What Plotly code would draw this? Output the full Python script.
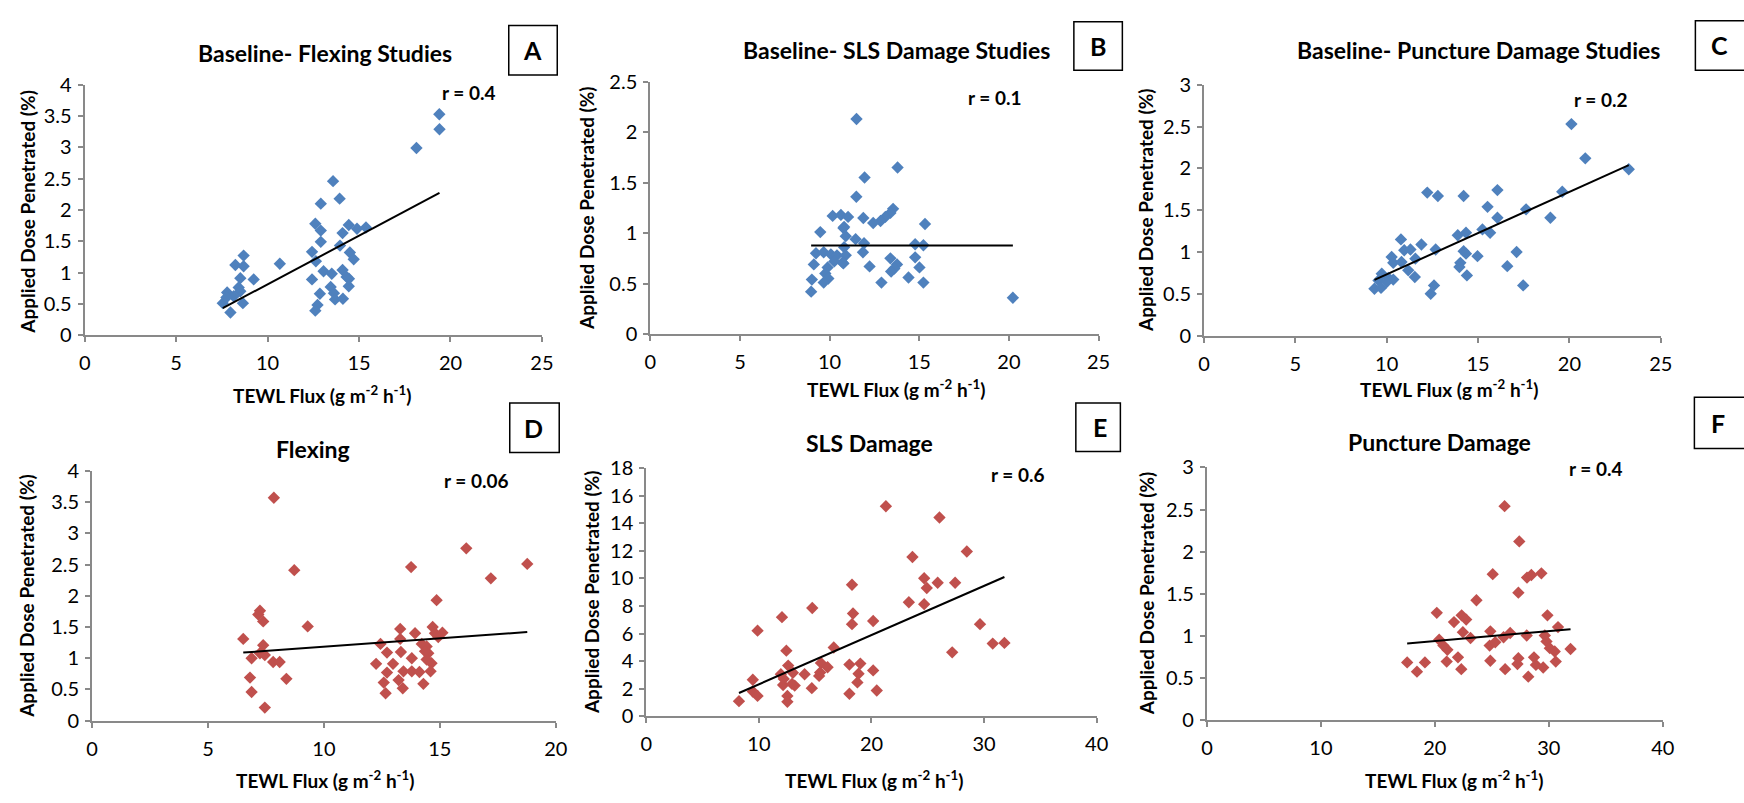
import plotly.graph_objects as go

W, H = 1744, 803

# ---- Data -------------------------------------------------------------
# Baseline - flexing studies
x_a = [19.39, 19.40, 18.14, 13.58, 13.94, 12.91, 12.61, 12.91, 14.44, 14.89,
       15.38, 14.10, 13.96, 12.91, 12.43, 12.64, 14.50, 14.71, 13.06, 13.51,
       14.10, 14.32, 14.44, 12.43, 13.45, 13.63, 12.86, 13.69, 14.12, 12.73,
       12.61, 10.67, 9.24, 8.69, 8.24, 8.69, 8.51, 8.42, 8.51, 7.79,
       8.15, 7.55, 8.65, 7.97, 7.75, 14.45]
y_a = [3.53, 3.29, 2.99, 2.46, 2.18, 2.10, 1.78, 1.67, 1.76, 1.70,
       1.72, 1.63, 1.43, 1.49, 1.33, 1.18, 1.32, 1.21, 1.02, 0.98,
       1.04, 0.93, 0.78, 0.89, 0.77, 0.67, 0.66, 0.57, 0.58, 0.48,
       0.39, 1.14, 0.89, 1.27, 1.12, 1.10, 0.91, 0.76, 0.70, 0.68,
       0.62, 0.51, 0.51, 0.36, 0.60, 0.90]
fit_a = (0.1554, -0.743)   # slope, intercept
r_a = "r = 0.4"

# Baseline - SLS damage studies
x_b = [11.50, 20.22, 13.79, 11.95, 11.49, 13.54, 13.39, 13.11, 12.84, 12.43,
       11.88, 10.17, 10.63, 11.03, 10.81, 10.77, 10.90, 9.48, 15.32, 11.45,
       11.92, 11.86, 14.77, 15.23, 10.81, 9.24, 9.67, 10.07, 10.41, 10.90,
       10.72, 10.26, 9.89, 9.76, 9.93, 9.67, 9.12, 9.01, 8.97, 10.77,
       12.23, 13.39, 13.76, 13.61, 13.43, 14.77, 15.01, 14.40, 15.23, 12.89]
y_b = [2.13, 0.36, 1.65, 1.55, 1.36, 1.24, 1.20, 1.16, 1.12, 1.10,
       1.15, 1.17, 1.18, 1.16, 1.06, 1.05, 0.97, 1.01, 1.09, 0.94,
       0.90, 0.81, 0.89, 0.88, 0.86, 0.80, 0.81, 0.79, 0.78, 0.78,
       0.71, 0.72, 0.66, 0.60, 0.55, 0.51, 0.69, 0.54, 0.42, 0.70,
       0.67, 0.75, 0.69, 0.65, 0.62, 0.76, 0.66, 0.56, 0.51, 0.51]
fit_b = (0.0, 0.878)
r_b = "r = 0.1"

# Baseline - puncture damage studies
x_c = [12.22, 12.80, 14.21, 16.06, 15.52, 16.06, 17.63, 13.89, 14.34, 15.24,
       15.66, 11.90, 12.68, 14.21, 14.34, 14.97, 17.11, 16.60, 14.03, 13.98,
       14.39, 17.47, 10.78, 10.96, 11.30, 11.57, 10.27, 10.36, 10.81, 11.18,
       11.54, 12.59, 12.41, 9.73, 10.09, 10.36, 9.55, 9.33, 9.69, 10.00,
       20.11, 20.87, 23.25, 19.61, 18.96]
y_c = [1.71, 1.67, 1.67, 1.74, 1.54, 1.41, 1.51, 1.20, 1.23, 1.27,
       1.23, 1.09, 1.03, 1.01, 0.98, 0.95, 1.00, 0.83, 0.87, 0.82,
       0.72, 0.60, 1.15, 1.02, 1.03, 0.92, 0.94, 0.87, 0.88, 0.78,
       0.70, 0.60, 0.50, 0.74, 0.69, 0.67, 0.66, 0.56, 0.57, 0.64,
       2.53, 2.12, 1.99, 1.72, 1.41]
fit_c = (0.0987, -0.255)
r_c = "r = 0.2"

# Flexing
x_d = [14.86, 9.30, 7.24, 7.17, 7.38, 6.52, 7.38, 7.24, 6.88, 7.45,
       7.81, 8.09, 6.81, 8.38, 6.88, 7.45, 13.29, 13.93, 14.69, 14.79,
       15.11, 14.93, 12.44, 13.29, 14.22, 14.43, 12.72, 13.32, 14.50, 12.25,
       13.79, 14.43, 12.98, 14.64, 12.72, 13.43, 13.79, 14.12, 14.60, 13.22,
       12.58, 13.40, 14.29, 12.66, 14.36, 7.84, 8.72, 13.76, 16.14, 17.20,
       18.77]
y_d = [1.93, 1.51, 1.76, 1.70, 1.59, 1.31, 1.21, 1.08, 1.00, 1.05,
       0.94, 0.94, 0.69, 0.67, 0.46, 0.21, 1.47, 1.40, 1.50, 1.40,
       1.41, 1.34, 1.23, 1.31, 1.23, 1.19, 1.09, 1.10, 1.08, 0.91,
       1.00, 0.98, 0.91, 0.92, 0.77, 0.79, 0.79, 0.78, 0.79, 0.65,
       0.61, 0.52, 0.59, 0.44, 1.11, 3.57, 2.41, 2.46, 2.76, 2.28,
       2.51]
fit_d = (0.0269, 0.915)
r_d = "r = 0.06"

# SLS damage
x_e = [21.28, 26.04, 23.64, 28.47, 24.68, 25.88, 27.43, 24.91, 18.27, 23.32,
       24.68, 14.74, 12.05, 18.36, 18.27, 20.15, 9.88, 29.64, 30.77, 31.81,
       27.17, 16.65, 12.44, 12.60, 13.02, 14.06, 15.51, 16.10, 15.35, 18.04,
       19.01, 18.85, 20.15, 18.75, 20.47, 18.04, 14.70, 11.95, 12.15, 13.18,
       9.46, 9.46, 9.88, 8.23, 12.53, 12.53, 15.44, 12.21, 12.94]
y_e = [15.23, 14.41, 11.55, 11.95, 10.01, 9.68, 9.68, 9.30, 9.54, 8.27,
       8.13, 7.85, 7.19, 7.45, 6.68, 6.91, 6.21, 6.68, 5.27, 5.32,
       4.64, 4.99, 4.76, 3.68, 3.16, 3.05, 3.87, 3.56, 2.93, 3.75,
       3.82, 3.09, 3.33, 2.46, 1.87, 1.64, 2.04, 3.05, 2.27, 2.23,
       2.65, 1.80, 1.48, 1.10, 1.48, 1.05, 3.18, 2.71, 2.35]
fit_e = (0.3566, -1.245)
r_e = "r = 0.6"

# Puncture damage
x_f = [20.17, 21.68, 22.35, 22.75, 23.65, 27.33, 29.88, 22.46, 23.13, 20.38,
       20.75, 21.10, 24.87, 24.81, 25.30, 26.03, 26.61, 28.06, 29.65, 29.80,
       30.09, 30.52, 30.81, 31.91, 30.61, 17.57, 18.43, 19.13, 21.04, 22.03,
       22.32, 24.87, 26.17, 27.33, 27.25, 28.20, 28.70, 28.87, 29.51, 26.12,
       27.41, 25.08, 28.09, 28.47, 29.35]
y_f = [1.27, 1.16, 1.24, 1.19, 1.42, 1.51, 1.24, 1.04, 0.97, 0.95,
       0.88, 0.83, 1.05, 0.88, 0.92, 0.98, 1.03, 1.00, 1.00, 0.93,
       0.85, 0.81, 1.10, 0.84, 0.69, 0.68, 0.57, 0.68, 0.69, 0.74,
       0.60, 0.70, 0.60, 0.73, 0.66, 0.51, 0.74, 0.65, 0.62, 2.54,
       2.12, 1.73, 1.69, 1.72, 1.74]
fit_f = (0.0120, 0.693)
r_f = "r = 0.4"

titles = ["Baseline- Flexing Studies", "Baseline- SLS Damage Studies",
          "Baseline- Puncture Damage Studies", "Flexing", "SLS Damage",
          "Puncture Damage"]
letters = ["A", "B", "C", "D", "E", "F"]
y_title = "Applied Dose Penetrated (%)"
x_title = "TEWL Flux (g m<sup>-2</sup> h<sup>-1</sup>)"

BLUE = "#4F81BD"
RED = "#C0504D"
AXIS = "#898989"
FONT = "Lato"


def fx(p):
    return p / W


def fy(p):
    return 1 - p / H


def bold(size):
    return dict(family=FONT, size=size, color="#000000", weight="bold")


# ---- Panel layout (pixel boxes of each plot area) ---------------------
panels = [
    dict(x=x_a, y=y_a, fit=fit_a, r=r_a, color=BLUE, xr=25, xd=5, yr=4, yd=0.5,
         box=(79.5, 541.5, 74, 332), title_xy=(322, 41), r_xy=(468, 82),
         xt_xy=(320, 393), yt_xy=(22, 205), letter_box=(508, 557, 13, 64)),
    dict(x=x_b, y=y_b, fit=fit_b, r=r_b, color=BLUE, xr=25, xd=5, yr=2.5, yd=0.5,
         box=(651, 1104, 70.7, 331), title_xy=(900, 38), r_xy=(999, 87),
         xt_xy=(900, 387), yt_xy=(587, 201), letter_box=(1079, 1128, 9, 59)),
    dict(x=x_c, y=y_c, fit=fit_c, r=r_c, color=BLUE, xr=25, xd=5, yr=3, yd=0.5,
         box=(1210.5, 1672, 74, 332.5), title_xy=(1488, 38), r_xy=(1612, 89),
         xt_xy=(1459, 387), yt_xy=(1152, 203), letter_box=(1707, 1762, 8, 59)),
    dict(x=x_d, y=y_d, fit=fit_d, r=r_d, color=RED, xr=20, xd=5, yr=4, yd=0.5,
         box=(87, 555.5, 472, 729.5), title_xy=(310, 449), r_xy=(475, 482),
         xt_xy=(323, 790), yt_xy=(20, 601), letter_box=(509, 559, 402, 453)),
    dict(x=x_e, y=y_e, fit=fit_e, r=r_e, color=RED, xr=40, xd=10, yr=18, yd=2,
         box=(647, 1102, 469, 725), title_xy=(872, 443), r_xy=(1023, 476),
         xt_xy=(878, 790), yt_xy=(591, 597), letter_box=(1081, 1126, 402, 452)),
    dict(x=x_f, y=y_f, fit=fit_f, r=r_f, color=RED, xr=40, xd=10, yr=3, yd=0.5,
         box=(1213.5, 1674, 468.5, 728.3), title_xy=(1448, 442), r_xy=(1607, 470),
         xt_xy=(1464, 790), yt_xy=(1152, 598), letter_box=(1706, 1762, 396, 449)),
]

fig = go.Figure()
annotations = []
shapes = []
axis_font = dict(family=FONT, size=20, color="#000000")

for i, p in enumerate(panels):
    n = "" if i == 0 else str(i + 1)
    xa, ya = "x" + n, "y" + n

    fig.add_trace(go.Scatter(
        x=p["x"], y=p["y"], mode="markers", xaxis=xa, yaxis=ya,
        marker=dict(symbol="diamond", size=9.5, color=p["color"],
                    line=dict(width=0)),
        showlegend=False, hoverinfo="x+y"))

    slope, intercept = p["fit"]
    x0, x1 = min(p["x"]), max(p["x"])
    fig.add_trace(go.Scatter(
        x=[x0, x1], y=[intercept + slope * x0, intercept + slope * x1],
        mode="lines", xaxis=xa, yaxis=ya,
        line=dict(color="#000000", width=2), showlegend=False,
        hoverinfo="skip"))

    l, r, t, b = p["box"]
    common = dict(showline=True, linecolor=AXIS, linewidth=2, ticks="outside",
                  ticklen=5, tickwidth=2, tickcolor=AXIS, showgrid=False,
                  zeroline=False, tickfont=axis_font, fixedrange=True)
    fig.update_layout(**{
        "xaxis" + n: dict(domain=[fx(l), fx(r)], range=[0, p["xr"]],
                          dtick=p["xd"], tick0=0, anchor=ya,
                          ticklabelstandoff=4, **common),
        "yaxis" + n: dict(domain=[fy(b), fy(t)], range=[0, p["yr"]],
                          dtick=p["yd"], tick0=0, anchor=xa,
                          ticklabelstandoff=2, **common),
    })

    tx, ty = p["title_xy"]
    annotations.append(dict(text=titles[i], x=fx(tx), y=fy(ty),
                            xref="paper", yref="paper", showarrow=False,
                            xanchor="center", yanchor="middle", font=bold(23)))
    rx, ry = p["r_xy"]
    annotations.append(dict(text=p["r"], x=fx(rx), y=fy(ry),
                            xref="paper", yref="paper", showarrow=False,
                            xanchor="center", yanchor="middle", font=bold(19)))
    xx, xy = p["xt_xy"]
    annotations.append(dict(text=x_title, x=fx(xx), y=fy(xy),
                            xref="paper", yref="paper", showarrow=False,
                            xanchor="center", yanchor="middle", font=bold(19)))
    yx, yy = p["yt_xy"]
    annotations.append(dict(text=y_title, x=fx(yx), y=fy(yy),
                            xref="paper", yref="paper", showarrow=False,
                            textangle=-90, xanchor="center", yanchor="middle",
                            font=bold(19)))

    bl, br, bt, bb = p["letter_box"]
    shapes.append(dict(type="rect", xref="paper", yref="paper",
                       x0=fx(bl), x1=fx(br), y0=fy(bb), y1=fy(bt),
                       line=dict(color="#000000", width=1.5),
                       fillcolor="rgba(0,0,0,0)"))
    annotations.append(dict(text=letters[i],
                            x=fx(bl + 24), y=fy((bt + bb) / 2),
                            xref="paper", yref="paper", showarrow=False,
                            xanchor="center", yanchor="middle", font=bold(25)))

fig.update_layout(
    width=W, height=H, margin=dict(l=0, r=0, t=0, b=0),
    paper_bgcolor="white", plot_bgcolor="white",
    annotations=annotations, shapes=shapes,
    font=dict(family=FONT, color="#000"),
)

fig.write_html("out.html")
